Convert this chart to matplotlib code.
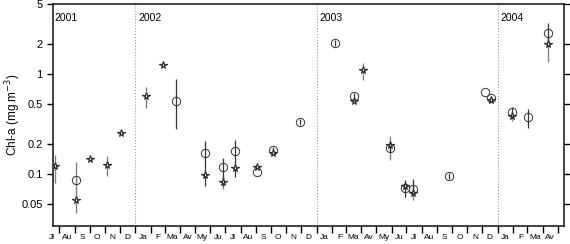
import numpy as np
import pandas as pd
import matplotlib
matplotlib.use('Agg')
import matplotlib.pyplot as plt
import matplotlib.dates as mdates
import matplotlib.transforms as mtransforms

plt.rcParams['font.family'] = ['Liberation Sans', 'DejaVu Sans']

# open circles : date, value, error bar low / high
circ_dates = ['2001-09-03', '2002-03-24', '2002-05-21', '2002-06-27', '2002-07-21',
              '2002-09-03', '2002-10-06', '2002-11-28', '2003-02-08', '2003-03-18',
              '2003-05-29', '2003-06-28', '2003-07-15', '2003-09-24', '2003-12-06',
              '2003-12-18', '2004-01-30', '2004-03-03', '2004-04-11']
circ_val = [0.087, 0.537, 0.16, 0.118, 0.17, 0.105, 0.171, 0.331, 2.03, 0.60,
            0.181, 0.072, 0.071, 0.095, 0.65, 0.566, 0.41, 0.37, 2.55]
circ_lo = [0.087, 0.28, 0.076, 0.075, 0.093, 0.105, 0.158, 0.31, 1.88, 0.56,
           0.165, 0.058, 0.062, 0.089, 0.65, 0.52, 0.37, 0.286, 1.9]
circ_hi = [0.087, 0.886, 0.214, 0.143, 0.215, 0.105, 0.185, 0.35, 2.2, 0.64,
           0.20, 0.086, 0.088, 0.101, 0.65, 0.60, 0.465, 0.444, 3.2]

# stars : date, value, error bar low / high
star_dates = ['2001-07-23', '2001-09-03', '2001-10-02', '2001-11-05', '2001-12-02',
              '2002-01-22', '2002-02-25', '2002-05-21', '2002-06-27', '2002-07-21',
              '2002-09-03', '2002-10-06', '2003-03-18', '2003-04-05', '2003-05-29',
              '2003-06-28', '2003-07-15', '2003-12-18', '2004-01-30', '2004-04-11']
star_val = [0.12, 0.055, 0.139, 0.122, 0.257, 0.593, 1.23, 0.098, 0.083, 0.113,
            0.116, 0.161, 0.537, 1.09, 0.195, 0.076, 0.064, 0.54, 0.375, 2.0]
star_lo = [0.081, 0.04, 0.139, 0.094, 0.257, 0.454, 1.23, 0.098, 0.070, 0.113,
           0.116, 0.161, 0.537, 0.87, 0.138, 0.076, 0.055, 0.54, 0.34, 1.3]
star_hi = [0.155, 0.132, 0.139, 0.149, 0.257, 0.73, 1.23, 0.098, 0.095, 0.113,
           0.116, 0.161, 0.537, 1.29, 0.24, 0.076, 0.075, 0.54, 0.41, 2.4]

years = ['2001', '2002', '2003', '2004']
month_labels = ['Ja', 'F', 'Ma', 'Av', 'My', 'Ju', 'Jl', 'Au', 'S', 'O', 'N', 'D']
y_ticks = [0.05, 0.1, 0.2, 0.5, 1, 2, 5]

cd = pd.to_datetime(circ_dates)
sd = pd.to_datetime(star_dates)
x_start = pd.Timestamp('2001-07-19')
x_end = pd.Timestamp('2004-05-13')

fig = plt.figure(figsize=(5.7, 2.44), dpi=100)
ax = fig.add_axes([0.093, 0.074, 0.896, 0.910])

# year separators
for yr in years[1:]:
    ax.axvline(pd.Timestamp(yr + '-01-01'), color='#999999', ls=':', lw=0.8, zorder=1)

ax.vlines(sd, star_lo, star_hi, color='#808080', lw=1.0, zorder=2)
ax.vlines(cd, circ_lo, circ_hi, color='#333333', lw=0.9, zorder=2)
ax.plot(sd, star_val, ls='none', marker='*', ms=5.5, mfc='white', mec='#333333', mew=0.9, zorder=3)
ax.plot(cd, circ_val, ls='none', marker='o', ms=6, mfc='none', mec='#333333', mew=0.7, zorder=4)

ax.set_yscale('log')
ax.set_ylim(0.03, 5)
ax.set_yticks(y_ticks)
ax.set_yticklabels([f'{v:g}' for v in y_ticks])
ax.yaxis.set_minor_locator(matplotlib.ticker.NullLocator())
ax.tick_params(axis='y', which='major', labelsize=8, length=4, width=1, right=True, direction='out')

ax.set_xlim(x_start, x_end)
ax.xaxis.set_major_locator(mdates.MonthLocator())
ax.xaxis.set_major_formatter(matplotlib.ticker.NullFormatter())
ax.xaxis.set_minor_locator(mdates.MonthLocator(bymonthday=16))
ax.xaxis.set_minor_formatter(matplotlib.ticker.FuncFormatter(
    lambda x, pos: month_labels[mdates.num2date(x).month - 1]))
ax.tick_params(axis='x', which='major', length=5, width=1, direction='out')
ax.tick_params(axis='x', which='minor', length=0, labelsize=6, pad=6)

# the first month label sits just left of the axis start
trans = mtransforms.blended_transform_factory(ax.transData, ax.transAxes) + \
    mtransforms.ScaledTranslation(0, -6 / 72, fig.dpi_scale_trans)
ax.text(pd.Timestamp('2001-07-16'), 0, 'Jl', transform=trans, fontsize=6,
        ha='center', va='top', clip_on=False)

for s in ax.spines.values():
    s.set_linewidth(1.2)
    s.set_color('#222222')

for yr in years:
    x0 = max(pd.Timestamp(yr + '-01-01'), x_start)
    ax.text(x0 + pd.Timedelta(days=6 if yr != '2001' else 2), 3.6, yr, fontsize=7.5,
            ha='left', va='center')

ax.set_ylabel('Chl-a (mg m$^{-3}$)', fontsize=8.5)
ax.yaxis.set_label_coords(-0.058, 0.5)

fig.savefig('out.png', dpi=100)
